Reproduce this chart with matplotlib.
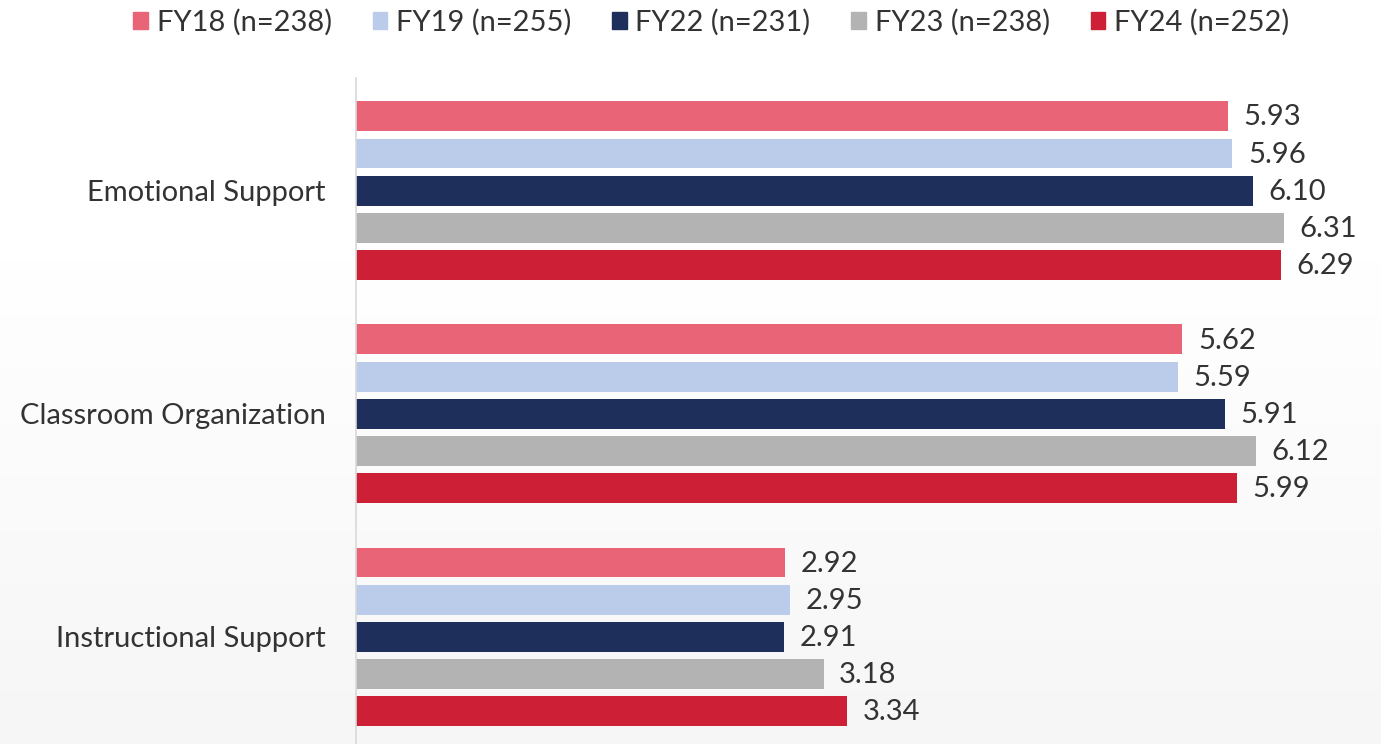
import numpy as np
import matplotlib.pyplot as plt
from matplotlib.patches import Patch

plt.rcParams['font.family'] = ['Lato', 'DejaVu Sans']

categories = ['Emotional Support', 'Classroom Organization', 'Instructional Support']
series = ['FY18 (n=238)', 'FY19 (n=255)', 'FY22 (n=231)', 'FY23 (n=238)', 'FY24 (n=252)']
values = [
    [5.93, 5.62, 2.92],
    [5.96, 5.59, 2.95],
    [6.10, 5.91, 2.91],
    [6.31, 6.12, 3.18],
    [6.29, 5.99, 3.34],
]
colors = ['#E86476', '#BBCCEB', '#1E2F5C', '#B3B3B3', '#CD1F35']

fig = plt.figure(figsize=(13.81, 7.44), dpi=100)

# soft white-to-grey wash behind everything
bg = fig.add_axes([0, 0, 1, 1], zorder=-10)
grad = np.linspace(0, 1, 256).reshape(-1, 1)
shade = np.clip((grad - 0.35) / 0.65, 0, 1)
img = np.ones((256, 1, 3)) - shade[..., None] * 0.035
bg.imshow(img, aspect='auto', extent=[0, 1, 0, 1], origin='upper')
bg.axis('off')

ax = fig.add_axes([356 / 1381, 0, 1 - 356 / 1381, (744 - 78) / 744])
ax.patch.set_alpha(0)

step = 1 / 6
height = 0.134
centers = np.arange(len(categories))
for i, (name, vals, c) in enumerate(zip(series, values, colors)):
    y = centers + (i - 2) * step
    ax.barh(y, vals, height=height, color=c, label=name)
    for yy, v in zip(y, vals):
        ax.text(v + 0.105, yy + 0.005, f'{v:.2f}', va='center', ha='left',
                fontsize=21, color='#333333')

ax.set_xlim(0, 6.97)
ax.set_ylim(2.48, -0.505)
ax.set_yticks(centers)
ax.set_yticklabels(categories, fontsize=21, color='#333333')
ax.tick_params(axis='y', length=0, pad=22)
ax.set_xticks([])
for s in ['top', 'right', 'bottom']:
    ax.spines[s].set_visible(False)
ax.spines['left'].set_color('#D9D9D9')
ax.spines['left'].set_linewidth(1.2)

handles = [Patch(color=c, label=n) for n, c in zip(series, colors)]
fig.legend(handles=handles, loc='center', bbox_to_anchor=(0.515, 0.97),
           ncol=5, frameon=False, fontsize=21, handlelength=0.5,
           handleheight=0.5, handletextpad=0.3, columnspacing=1.4,
           labelcolor='#333333')

fig.savefig('out.png', dpi=100)
